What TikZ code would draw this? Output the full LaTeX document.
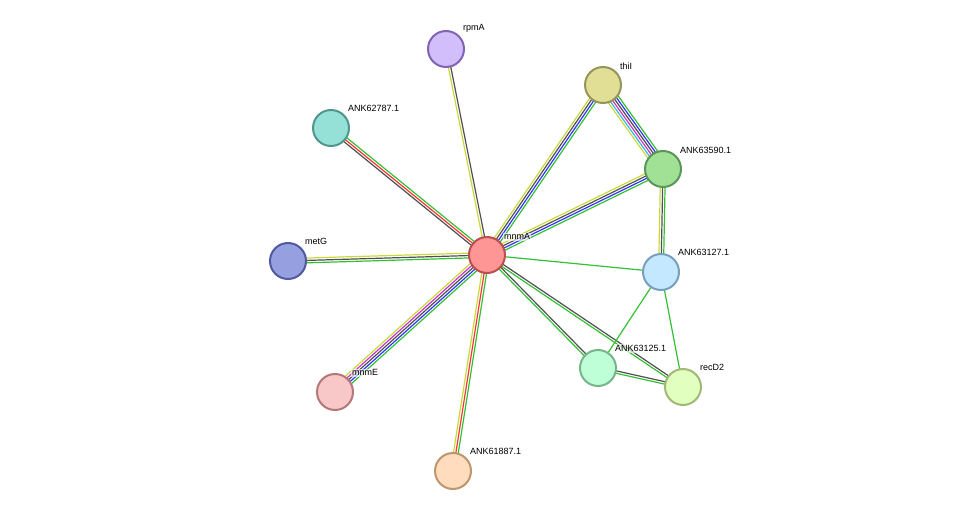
\documentclass[tikz,border=0pt]{standalone}
\usepackage{fontspec}
\setmainfont{Liberation Sans}
\usetikzlibrary{calc,backgrounds}
\definecolor{eg}{HTML}{33C033}
\definecolor{eb}{HTML}{3333FF}
\definecolor{ek}{HTML}{505050}
\definecolor{em}{HTML}{CC33CC}
\definecolor{ec}{HTML}{33BBDD}
\definecolor{ey}{HTML}{C8DA3A}
\definecolor{er}{HTML}{FF3333}
\tikzset{
  prot/.style={circle,minimum size=36pt,inner sep=0pt,line width=2pt},
  lbl/.style={font=\fontsize{9}{10}\selectfont,anchor=south west,inner sep=1pt,fill=white,fill opacity=0.6,text opacity=1},
  eline/.style={line width=1.2pt}
}
\newcommand{\medge}[4]{% a b n colors
  \foreach \c [count=\i] in {#4}{
    \pgfmathsetmacro{\o}{(\i-(#3+1)/2)*2.4}
    \draw[eline,\c] ($(#1)!\o pt!90:(#2)$) -- ($(#2)!\o pt!-90:(#1)$);
  }}
\begin{document}
\begin{tikzpicture}[x=1pt,y=-1pt]
\useasboundingbox (0,0) rectangle (975,516);
\node[prot,draw={rgb,255:red,185;green,80;blue,80},fill={rgb,255:red,255;green,150;blue,150}] (mnmA) at (487,255) {};
\node[prot,draw={rgb,255:red,130;green,100;blue,180},fill={rgb,255:red,210;green,190;blue,250}] (rpmA) at (446,49) {};
\node[prot,draw={rgb,255:red,80;green,150;blue,140},fill={rgb,255:red,150;green,225;blue,215}] (k787) at (331,128) {};
\node[prot,draw={rgb,255:red,80;green,90;blue,160},fill={rgb,255:red,150;green,160;blue,225}] (metG) at (288,261) {};
\node[prot,draw={rgb,255:red,180;green,120;blue,120},fill={rgb,255:red,248;green,200;blue,200}] (mnmE) at (335,392) {};
\node[prot,draw={rgb,255:red,190;green,150;blue,110},fill={rgb,255:red,255;green,220;blue,190}] (k887) at (453,471) {};
\node[prot,draw={rgb,255:red,120;green,180;blue,140},fill={rgb,255:red,190;green,255;blue,215}] (k125) at (598,368) {};
\node[prot,draw={rgb,255:red,160;green,185;blue,120},fill={rgb,255:red,225;green,255;blue,190}] (recD2) at (683,387) {};
\node[prot,draw={rgb,255:red,120;green,160;blue,190},fill={rgb,255:red,195;green,232;blue,255}] (k127) at (661,272) {};
\node[prot,draw={rgb,255:red,90;green,150;blue,90},fill={rgb,255:red,160;green,225;blue,150}] (k590) at (663,169) {};
\node[prot,draw={rgb,255:red,150;green,150;blue,90},fill={rgb,255:red,225;green,222;blue,150}] (thiI) at (603,85) {};
\begin{scope}[on background layer]
\medge{mnmA}{thiI}{4}{eg,eb,ek,ey}
\medge{k590}{thiI}{6}{eg,eb,ek,em,ec,ey}
\medge{mnmA}{k590}{4}{eg,eb,ek,ey}
\medge{k127}{k590}{3}{eg,ek,ey}
\medge{mnmA}{k127}{1}{eg}
\medge{metG}{mnmA}{3}{eg,ek,ey}
\medge{mnmE}{mnmA}{5}{eg,eb,ek,em,ey}
\medge{k887}{mnmA}{3}{eg,er,ey}
\medge{mnmA}{k787}{3}{eg,er,ek}
\medge{mnmA}{rpmA}{2}{ek,ey}
\medge{k125}{mnmA}{2}{ek,eg}
\medge{recD2}{mnmA}{2}{ek,eg}
\medge{recD2}{k125}{2}{ek,eg}
\medge{k127}{k125}{1}{eg}
\medge{k127}{recD2}{1}{eg}
\end{scope}
\node[lbl] (t1) at (503,241) {mnmA};
\node[lbl] (t2) at (462,34) {rpmA};
\node[lbl] (t3) at (347,113) {ANK62787.1};
\node[lbl] (t4) at (304,246) {metG};
\node[lbl] (t5) at (351,377) {mnmE};
\node[lbl] (t6) at (469,456) {ANK61887.1};
\node[lbl] (t7) at (614,353) {ANK63125.1};
\node[lbl] (t8) at (699,372) {recD2};
\node[lbl] (t9) at (677,257) {ANK63127.1};
\node[lbl] (t10) at (679,155) {ANK63590.1};
\node[lbl] (t11) at (619,71) {thiI};
\end{tikzpicture}
\end{document}
